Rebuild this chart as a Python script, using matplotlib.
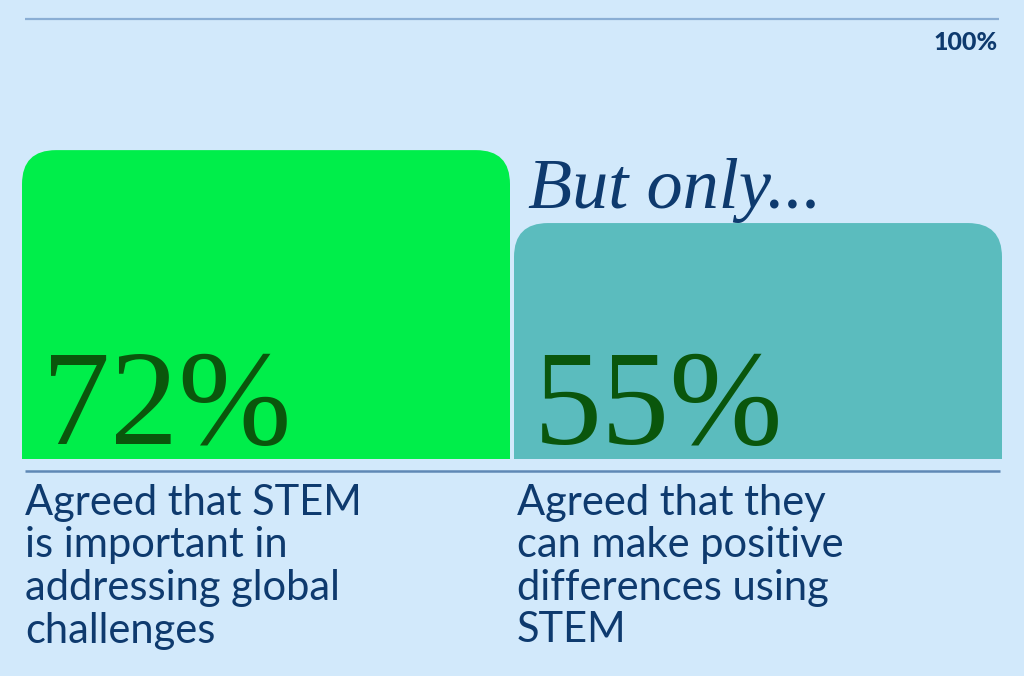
import matplotlib
matplotlib.use("Agg")
import matplotlib.pyplot as plt
from matplotlib.patches import FancyBboxPatch, Rectangle

# data
values = [72, 55]
value_labels = ["72%", "55%"]
bar_colors = ["#00ee4a", "#5bbcbe"]
captions = [
    ["Agreed that STEM", "is important in", "addressing global", "challenges"],
    ["Agreed that they", "can make positive", "differences using", "STEM"],
]
max_label = "100%"
note = "But only..."

bg = "#d2e9fb"
navy = "#0e3a6e"
dark_green = "#0a560c"

W, H = 1024, 676
fig = plt.figure(figsize=(W / 100, H / 100), dpi=100)
fig.patch.set_facecolor(bg)
ax = fig.add_axes([0, 0, 1, 1])
ax.set_facecolor(bg)
ax.axis("off")

# y axis in percent: 0% at pixel 459, 100% at pixel 30
px_per_pct = (459 - 30) / 100.0
ax.set_xlim(0, W)
ax.set_ylim(-(H - 459) / px_per_pct, 459 / px_per_pct)

def py(p):
    # pixel row (from top) -> data y
    return (459 - p) / px_per_pct

bar_left = [22, 514]
bar_width = 488
for i, v in enumerate(values):
    box = FancyBboxPatch((bar_left[i], -20), bar_width, v + 20,
                         boxstyle="round,pad=0,rounding_size=34",
                         mutation_aspect=1 / px_per_pct,
                         facecolor=bar_colors[i], edgecolor="none")
    ax.add_patch(box)
    clip = Rectangle((0, 0), W, 200, transform=ax.transData)
    box.set_clip_path(clip)
    ax.text(bar_left[i] + 20, py(444), value_labels[i], family="Liberation Serif",
            fontsize=98, color=dark_green, ha="left", va="baseline")
    for j, line in enumerate(captions[i]):
        ax.text(bar_left[i] + 3, py(515 + 42.5 * j), line, family="Lato",
                fontsize=30, color=navy, ha="left", va="baseline")

# lines
ax.plot([25, 999], [py(19), py(19)], color="#8aaed4", lw=1.6, solid_capstyle="butt")
ax.plot([25, 1000], [py(471), py(471)], color="#5f88b5", lw=1.8, solid_capstyle="butt")

ax.text(998, py(50), max_label, family="Lato", fontweight="black", fontsize=18,
        color=navy, ha="right", va="baseline")
ax.text(528, py(208), note, family="Liberation Serif", style="italic",
        fontsize=52, color=navy, ha="left", va="baseline")

fig.savefig("out.png", dpi=100, facecolor=bg)
